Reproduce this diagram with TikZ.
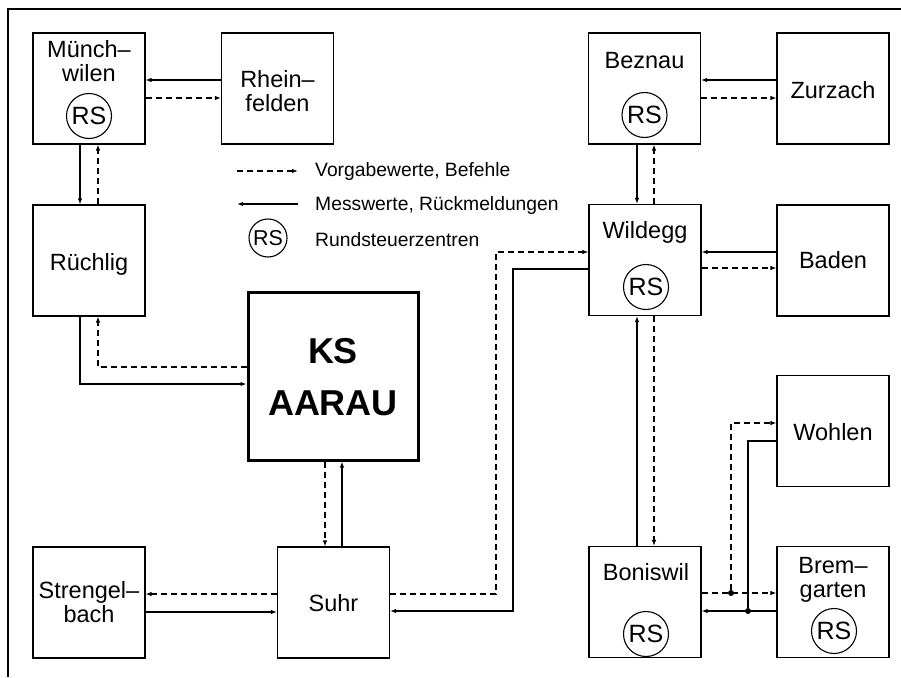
\documentclass[tikz,border=0pt]{standalone}
\usepackage{fontspec}
\setmainfont{Liberation Sans}
\usetikzlibrary{arrows.meta}

\begin{document}
\begin{tikzpicture}[x=1pt,y=-1pt,
  station/.style={draw,line width=1.2pt,minimum width=112pt,minimum height=111pt,inner sep=0pt},
  lbl/.style={align=center,inner sep=0pt,font=\fontsize{23.5}{24}\selectfont},
  rs/.style={draw,circle,line width=1.1pt,minimum size=45pt,inner sep=0pt,font=\fontsize{25}{26}\selectfont},
  leg/.style={anchor=west,inner sep=0pt,font=\fontsize{19.3}{22}\selectfont},
  mess/.style={line width=1.1pt,-{Latex[length=6pt,width=4.5pt]}},
  befehl/.style={mess,dash pattern=on 6pt off 4pt},
  junction/.style={circle,fill,inner sep=0pt,minimum size=6pt}]
\useasboundingbox (0,0) rectangle (901,677);
\draw[line width=1.5pt] (8,677) -- (8,9) -- (901,9);
\foreach \n/\x/\y in {mw/89/88.5,rh/277.5/88.5,bez/644.5/88.5,zur/833/88.5,rue/89/260.5,wil/645/260,bad/833/260.5,woh/833/431,str/89/602.5,suhr/333.5/602.5,bon/645/602,brg/833/602}
  \node[station] (\n) at (\x,\y) {};
\node[station,line width=3pt,minimum width=170pt,minimum height=168pt] (ks) at (333,376) {};

\node[lbl] (mwt) at (89,61) {Münch–\\wilen};
\node[lbl] (rht) at (277.5,91) {Rhein–\\felden};
\node[lbl] (bezt) at (644.5,61) {Beznau};
\node[lbl] (zurt) at (833,90) {Zurzach};
\node[lbl] (ruet) at (89,264) {Rüchlig};
\node[lbl] (wilt) at (645,232) {Wildegg};
\node[lbl] (badt) at (833,260) {Baden};
\node[lbl] (woht) at (833,432) {Wohlen};
\node[lbl] (bont) at (646,572) {Boniswil};
\node[lbl] (brgt) at (833,580) {Brem–\\garten};
\node[lbl] (strt) at (89,602) {Strengel–\\bach};
\node[lbl] (suhrt) at (333.5,603) {Suhr};
\node[lbl,font=\fontsize{36}{52}\selectfont\bfseries] (kst) at (333,377) {KS\\AARAU};

\node[rs] (mwrs) at (89,116) {RS};
\node[rs] (bezrs) at (644.5,115) {RS};
\node[rs] (wilrs) at (646,287) {RS};
\node[rs] (bonrs) at (646,634) {RS};
\node[rs] (brgrs) at (834,631) {RS};

\coordinate (lga) at (237,171);
\coordinate (lgb) at (298,171);
\coordinate (lgc) at (237,204);
\coordinate (lgd) at (298,204);
\node[rs,minimum size=38pt,font=\fontsize{21.5}{22}\selectfont] (lgrs) at (268,238) {RS};
\node[leg] (lg1) at (315,172) {Vorgabewerte, Befehle};
\node[leg] (lg2) at (315,206) {Messwerte, Rückmeldungen};
\node[leg] (lg3) at (315,240) {Rundsteuerzentren};
\draw[befehl] (lga) -- (lgb);
\draw[mess] (lgd) -- (lgc);

\draw[mess] (rh.west |- 0,80) -- (mw.east |- 0,80);
\draw[befehl] (mw.east |- 0,98) -- (rh.west |- 0,98);
\draw[mess] (zur.west |- 0,80) -- (bez.east |- 0,80);
\draw[befehl] (bez.east |- 0,98) -- (zur.west |- 0,98);
\draw[mess] (mw.south -| 80,0) -- (rue.north -| 80,0);
\draw[befehl] (rue.north -| 98,0) -- (mw.south -| 98,0);
\draw[mess] (bez.south -| 637,0) -- (wil.north -| 637,0);
\draw[befehl] (wil.north -| 654,0) -- (bez.south -| 654,0);
\draw[mess] (bad.west |- 0,252) -- (wil.east |- 0,252);
\draw[befehl] (wil.east |- 0,268) -- (bad.west |- 0,268);
\draw[mess] (bon.north -| 637,0) -- (wil.south -| 637,0);
\draw[befehl] (wil.south -| 654,0) -- (bon.north -| 654,0);
\draw[befehl] (ks.west |- 0,367) -| (rue.south -| 98,0);
\draw[mess] (rue.south -| 80,0) |- (ks.west |- 0,384);
\draw[befehl] (ks.south -| 325,0) -- (suhr.north -| 325,0);
\draw[mess] (suhr.north -| 342,0) -- (ks.south -| 342,0);
\draw[befehl] (suhr.west |- 0,594) -- (str.east |- 0,594);
\draw[mess] (str.east |- 0,612) -- (suhr.west |- 0,612);
\draw[befehl] (suhr.east |- 0,594) -| (496,252) -- (wil.west |- 0,252);
\draw[mess] (wil.west |- 0,269) -| (513,611) -- (suhr.east |- 0,611);

\node[junction] (j1) at (731,593) {};
\node[junction] (j2) at (748,611) {};
\draw[befehl] (bon.east |- j1) -- (brg.west |- j1);
\draw[befehl] (j1) |- (woh.west |- 0,423);
\draw[mess] (brg.west |- j2) -- (bon.east |- j2);
\draw[line width=1.1pt] (woh.west |- 0,441) -| (j2);
\end{tikzpicture}
\end{document}
